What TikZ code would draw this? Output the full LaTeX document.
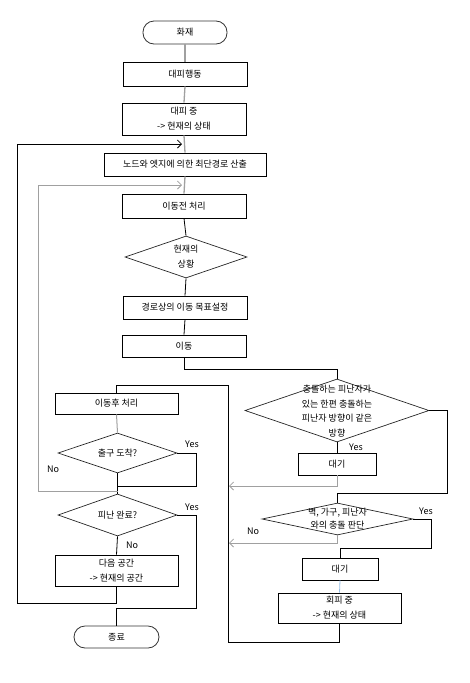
\documentclass[tikz,border=0pt]{standalone}
\usepackage{fontspec}
\setmainfont{Noto Sans CJK KR}
\usetikzlibrary{shapes.geometric,arrows.meta}
\definecolor{spine}{RGB}{160,160,160}
\definecolor{lblue}{RGB}{150,190,230}
\tikzset{
  box/.style={draw=black,line width=0.8pt,rectangle,inner sep=0pt,align=center,font=\fontsize{9}{15}\selectfont},
  term/.style={draw=black!80,line width=0.8pt,rectangle,rounded corners=11pt,inner sep=0pt,font=\fontsize{9}{15}\selectfont},
  dia/.style={draw=black!85,line width=0.7pt,diamond,inner sep=0pt},
  dtext/.style={align=center,inner sep=0pt,font=\fontsize{9}{15}\selectfont},
  lab/.style={inner sep=0pt,font=\fontsize{9}{11}\selectfont},
  ln/.style={line width=0.8pt,black},
  sp/.style={line width=1.3pt,spine},
  arr/.style={line width=0.8pt,black,-{Straight Barb[length=4pt,width=8pt,line width=0.8pt]}},
  garr/.style={line width=1pt,spine,-{Straight Barb[length=4pt,width=8pt,line width=0.8pt]}},
}
\begin{document}
\begin{tikzpicture}[x=1pt,y=-1pt]
\useasboundingbox (0,0) rectangle (470,683);
% left column
\node[term,minimum width=84,minimum height=23] (fire) at (185,32.5) {화재};
\node[box,minimum width=124,minimum height=24] (a1) at (185,74) {대피행동};
\node[box,minimum width=124,minimum height=32] (a2) at (184,119) {대피 중\\-> 현재의 상태};
\node[box,minimum width=162,minimum height=23] (a3) at (185,164.5) {노드와 엣지에 의한 최단경로 산출};
\node[box,minimum width=124,minimum height=24] (a4) at (184,206) {이동전 처리};
\node[dia,minimum width=122,minimum height=42] (d1) at (186,257) {};
\node[dtext] (d1t) at (186,257) {현재의\\상황};
\node[box,minimum width=124,minimum height=23] (a5) at (185,307.5) {경로상의 이동 목표설정};
\node[box,minimum width=124,minimum height=22] (a6) at (184,346) {이동};
\node[box,minimum width=123,minimum height=21] (b1) at (116.5,403.5) {이동후 처리};
\node[dia,minimum width=119,minimum height=40] (d2) at (117.5,453) {};
\node[dtext] (d2t) at (117.5,453) {출구 도착?};
\node[dia,minimum width=119,minimum height=42] (d3) at (117.5,515) {};
\node[dtext] (d3t) at (117.5,515) {피난 완료?};
\node[box,minimum width=123,minimum height=31] (b2) at (116.5,570.5) {다음 공간\\-> 현재의 공간};
\node[term,minimum width=85,minimum height=22] (end) at (116.5,637) {종료};
% right column
\node[dia,minimum width=184,minimum height=63] (d4) at (337,410.5) {};
\node[dtext,font=\fontsize{9}{14.5}\selectfont] (d4t) at (337,411) {충돌하는 피난자가\\있는 한편 충돌하는\\피난자 방향이 같은\\방향};
\node[box,minimum width=78,minimum height=22] (c1) at (337,464) {대기};
\node[dia,minimum width=151,minimum height=32] (d5) at (337.5,519) {};
\node[dtext,font=\fontsize{9}{13.5}\selectfont] (d5t) at (337.5,518.5) {벽, 가구, 피난자\\와의 충돌 판단};
\node[box,minimum width=76,minimum height=22] (c2) at (340,569) {대기};
\node[box,minimum width=123,minimum height=30] (c3) at (339.5,608) {회피 중\\-> 현재의 상태};
% labels
\node[lab] (y2) at (192,444) {Yes};
\node[lab] (n2) at (53,469) {No};
\node[lab] (y3) at (192,507) {Yes};
\node[lab] (n3) at (132,545) {No};
\node[lab] (y4) at (356,447) {Yes};
\node[lab] (y5) at (426,511) {Yes};
\node[lab] (n5) at (253,531) {No};
% coordinates
\coordinate (tipA) at (182,144);
\coordinate (tipB) at (182,185);
\coordinate (kA) at (17,603);
\coordinate (kB1) at (117.5,491);
\coordinate (kB2) at (38,491);
\coordinate (kC) at (184,369);
\coordinate (tipC) at (229,486);
\coordinate (kD) at (447,493);
\coordinate (kE) at (431,548);
\coordinate (tipD) at (229,543);
\coordinate (kF1) at (228,642);
\coordinate (kF2) at (228,385);
\coordinate (kG) at (196,486);
\coordinate (kH) at (196,608);
% spine
\draw[sp] (fire.south) -- (a1.north);
\draw[sp] (a1.south) -- (a2.north);
\draw[sp] (a2.south) -- (a3.north);
\draw[sp] (a3.south) -- (a4.north);
\draw[ln] (a4.south) -- (d1.north);
\draw[ln] (d1.south) -- (a5.north);
\draw[ln] (a5.south) -- (a6.north);
% to right column
\draw[ln] (a6.south) -- (kC) -| (d4.north);
\draw[ln] (d4.south) -- (c1.north);
\draw[garr] (c1.south) |- (tipC);
\draw[ln] (d4.east) -| (kD) -| (d5.north);
\draw[ln] (d5.east) -| (kE) -| (c2.north);
\draw[garr] (d5.south) |- (tipD);
\draw[line width=0.8pt,lblue] (c2.south) -- (c3.north);
\draw[ln] (c3.south) |- (kF1) -- (kF2) -| (b1.north);
% left lower
\draw[sp,line width=1pt] (b1.south) -- (d2.north);
\draw[ln] (d2.east) -| (kG) -- (d2.south |- kG);
\draw[ln] (d2.south) -- (d3.north);
\draw[garr] (kB1) -- (kB2) |- (tipB);
\draw[ln] (d3.east) -| (kH) -| (end.north);
\draw[ln] (d3.south) -- (b2.north);
\draw[arr] (b2.south) |- (kA) |- (tipA);
\end{tikzpicture}
\end{document}
